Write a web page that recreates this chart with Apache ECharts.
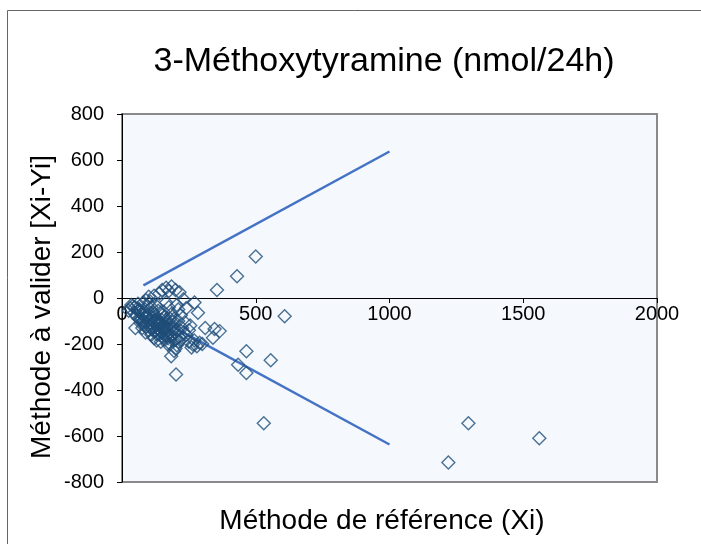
<!DOCTYPE html>
<html>
<head>
<meta charset="utf-8">
<script src="https://cdn.jsdelivr.net/npm/echarts@6/dist/echarts.min.js"></script>
<style>html,body{margin:0;padding:0;background:#fff;}#c{width:701px;height:544px;}</style>
</head>
<body>
<div id="c"></div>
<script>
// Data
const refX = [500,430,355,608,1560,1295,1220,530,556,465,434,465,202,184,
365,346,340,311,284,271,265,300,290,280,270,255,240,230,215,200,185,175,165,150,140,120,100,90,80,60,40,30,25,45,55,50,70,65,75,85,95,105,110,115,120,125,130,135,140,145,150,155,160,165,170,175,180,185,190,195,200,205,210,215,220,225,230,235,240,250,260,250,200,210,100,90,80,70,60,110,120,130,145,155,165,175,185,195,205,95,105,115,125,135,150,160,170,180,195,205,88,76,118,128,138,148,158,168,178,188,198,
35,48,58,68,78,88,98,108,118,128,138,148,158,168,62,72,82,92,102,112,122,132,142,152,162,172,182,192,212,222];
const diffY = [180,95,35,-79,-610,-545,-715,-545,-271,-232,-290,-326,-333,-253,
-144,-135,-173,-130,-64,-20,-202,-200,-195,-210,-185,-120,-45,-5,25,35,50,30,45,35,20,10,5,-10,-20,-25,-35,-45,-55,-65,-80,-130,-110,-50,-70,-60,-80,-95,-40,-120,-70,-140,-90,-55,-160,-110,-75,-130,-180,-95,-145,-115,-200,-160,-120,-230,-180,-140,-100,-170,-75,-130,-150,-105,-160,-190,-215,-140,-220,-50,-140,-125,-100,-85,-55,-160,-175,-185,-190,-60,-20,-40,-70,-90,-30,-35,-15,-60,-30,-100,-150,-80,-200,-90,-185,-205,-150,-130,-100,-115,-135,-95,-115,-165,-135,-105,-150,
-30,-40,-45,-60,-75,-85,-70,-110,-85,-100,-120,-130,-140,-125,-90,-95,-115,-105,-125,-135,-145,-160,-110,-170,-150,-175,-165,-130,-190,-180];
const upperLineX = [80,1000];
const upperLineY = [55,637];
const lowerLineX = [80,1000];
const lowerLineY = [-55,-637];
const xTicks = [0,500,1000,1500,2000];
const yTicks = [-800,-600,-400,-200,0,200,400,600,800];
const titleText = '3-Méthoxytyramine (nmol/24h)';
const xName = 'Méthode de référence (Xi)';
const yName = 'Méthode à valider [Xi-Yi]';

const pts = refX.map((x,i)=>[x,diffY[i]]);
const up = upperLineX.map((x,i)=>[x,upperLineY[i]]);
const lo = lowerLineX.map((x,i)=>[x,lowerLineY[i]]);
const FONT = '"Liberation Sans", Arial, sans-serif';

const gridTop = 114, gridH = 368;
const yMin = yTicks[0], yMax = yTicks[yTicks.length-1];
const zeroOffset = -gridH * (0 - yMin) / (yMax - yMin); // move x axis up to y=0

const chart = echarts.init(document.getElementById('c'), null, {renderer:'canvas'});
chart.setOption({
  animation:false,
  backgroundColor:'#ffffff',
  grid:{left:122, top:gridTop, width:535, height:gridH, show:true, backgroundColor:'#F5F9FD', borderColor:'#8a8a8a', borderWidth:2},
  xAxis:{type:'value', min:xTicks[0], max:xTicks[xTicks.length-1], interval:500,
    position:'bottom', offset:zeroOffset,
    axisLine:{onZero:false, lineStyle:{color:'#000', width:1}},
    axisTick:{show:true, inside:false, length:5, lineStyle:{color:'#000'}},
    axisLabel:{color:'#000', fontSize:20, fontFamily:FONT, margin:6, formatter:v=>String(v)},
    splitLine:{show:false}},
  yAxis:{type:'value', min:yMin, max:yMax, interval:200,
    axisLine:{show:true, onZero:false, lineStyle:{color:'#000', width:1}},
    axisTick:{show:true, inside:false, length:5, lineStyle:{color:'#000'}},
    axisLabel:{color:'#000', fontSize:20, fontFamily:FONT, margin:18, formatter:v=>String(v)},
    splitLine:{show:false}},
  graphic:[
    {type:'rect', shape:{x:7.5, y:10.5, width:720, height:560}, style:{fill:'none', stroke:'#666', lineWidth:1}, z:-1},
    {type:'text', x:384, y:62, style:{text:titleText, font:'34px '+FONT, fill:'#000', textAlign:'center', textVerticalAlign:'middle'}},
    {type:'text', x:382, y:521, style:{text:xName, font:'28px '+FONT, fill:'#000', textAlign:'center', textVerticalAlign:'middle'}},
    {type:'text', x:42, y:307, rotation:Math.PI/2, style:{text:yName, font:'28px '+FONT, fill:'#000', textAlign:'center', textVerticalAlign:'middle'}}
  ],
  series:[
    {type:'line', data:up, symbol:'none', lineStyle:{color:'#4472C4', width:2.5}, z:3},
    {type:'line', data:lo, symbol:'none', lineStyle:{color:'#4472C4', width:2.5}, z:3},
    {type:'scatter', data:pts, symbol:'diamond', symbolSize:13,
      itemStyle:{color:'rgba(0,0,0,0)', borderColor:'#1F4E79', borderWidth:1.4}, z:4}
  ]
});
</script>
</body>
</html>
